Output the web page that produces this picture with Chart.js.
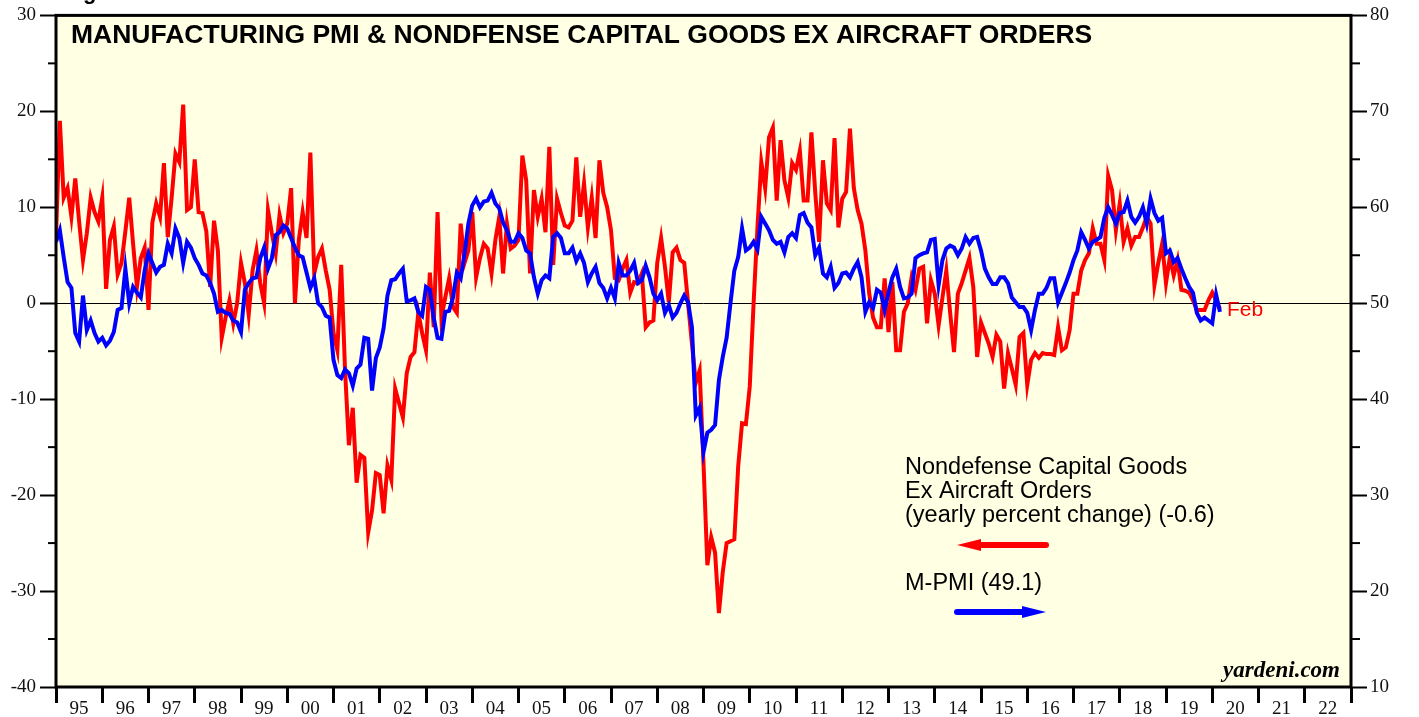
<!DOCTYPE html>
<html>
<head>
<meta charset="utf-8">
<title>Manufacturing PMI & Nondefense Capital Goods ex Aircraft Orders</title>
<script src="https://cdn.jsdelivr.net/npm/chart.js@4.4.1/dist/chart.umd.min.js"></script>
<style>
  html, body { margin: 0; padding: 0; background: #fff; }
  canvas { display: block; }
</style>
</head>
<body>
<canvas id="pmiChart" width="1419" height="717"></canvas>
<script>
// monthly values from Jan 1995, x index = months since Jan 1995
const yearLabels = ['95', '96', '97', '98', '99', '00', '01', '02', '03', '04', '05', '06', '07',
    '08', '09', '10', '11', '12', '13', '14', '15', '16', '17', '18', '19', '20', '21', '22'];

// nondefense capital goods ex aircraft orders, yearly % change (left axis)
const capexOrders = [
    7, 19, 11, 12, 9, 13, 8.5, 4.5, 7.3, 11, 9.5, 8.5,
    11, 1.5, 6.6, 8, 3, 4.2, 7.5, 11, 6.2, 1.7, 4.7, 5.8,
    -0.7, 8.4, 10.4, 9, 14.6, 6.9, 11, 15.6, 14.7, 20.7, 9.7, 10,
    15, 9.5, 9.4, 7.5, 1.7, 8.6, 5.5, -3.6, -1.5, 0.3, -2.1, 0,
    4.2, 2.1, -1.2, 3.4, 5.5, 2.1, 0, 9.7, 7.3, 5.2, 9.2, 7.3,
    8.3, 12, 0, 6.6, 9.5, 6.8, 15.7, 3.1, 4.8, 5.7, 3.4, 1.4,
    -3.1, -4.9, 4, -7, -14.8, -10.9, -18.7, -15.8, -16.1, -23.9, -21.6, -17.7,
    -17.9, -21.9, -16.9, -18.4, -8.9, -10.4, -11.9, -7.3, -5.6, -5.1, -1, -3.1,
    -4.9, 3.2, -2.5, 9.5, -1.5, 0.6, 2.6, -0.4, -1, 8.3, 4.2, 5.5,
    9.5, 2.7, 4.7, 6.2, 5.7, 3.1, 6.6, 9, 3.1, 8.3, 5.7, 6,
    6.6, 15.4, 12.8, 3.1, 11.8, 9, 10.9, 7.4, 16.3, 4, 10.9, 9.4,
    8.1, 7.9, 8.6, 15.2, 9, 12.5, 7.9, 11, 6.8, 14.9, 11.5, 10,
    7.6, 2.6, 2.4, 3.6, 4.5, 1.1, 2.2, 2.1, 3.1, -2.5, -2, -1.8,
    4.2, 6.8, 3.8, 0.1, 5.3, 5.8, 4.5, 4.2, 0, -4.2, -8.3, -7,
    -16.7, -27.3, -24.4, -26, -32.3, -28, -25, -24.8, -24.6, -17, -12.5, -12.6,
    -8.7, 0, 7.9, 14.7, 12, 17.3, 18.3, 10.7, 17, 12.8, 11, 14.6,
    13.9, 15.9, 10.7, 10.7, 17.8, 11.5, 6.4, 14.9, 10.4, 9.7, 17.2, 7.9,
    10.9, 11.6, 18.2, 12, 9.7, 8.3, 5.5, 1, -1.5, -2.5, -2.5, 2.6,
    -3, 2.2, -4.9, -4.9, -0.9, 0, 2.7, 1.4, 3.6, 3.8, -2.1, 2.4,
    1, -2.3, 0.6, 3.4, -1, -5.1, 1, 2.1, 3.4, 4.7, 1.7, -5.6,
    -2, -3.1, -4.2, -5.6, -3.3, -4, -8.9, -5.2, -6.8, -8.5, -3.5, -3.1,
    -8.5, -5.9, -5.2, -5.7, -5.2, -5.3, -5.3, -5.4, -2.5, -4.9, -4.6, -2.8,
    1, 1, 3.4, 4.5, 5.2, 7.8, 6.2, 6.2, 4.5, 13.3, 11.8, 7.6,
    10.4, 6.4, 7.8, 6, 6.9, 6.9, 7.9, 9, 8.3, 1.9, 4.2, 6.2,
    2.1, 4.8, 2.9, 4.5, 1.4, 1.3, 1.1, 0.3, -0.7, -0.7, -0.7, 0.3,
    1.1, 0.3, -0.6
];

// ISM manufacturing PMI (right axis)
const mPmi = [
    56.4, 57.6, 54.8, 52.2, 51.6, 46.9, 46, 50.8, 47.2, 48.2, 46.9, 46,
    46.4, 45.6, 46.1, 47, 49.3, 49.5, 53.6, 50, 51.7, 51.1, 50.6, 53.4,
    55.2, 54.2, 53.2, 53.8, 54, 56.2, 55.2, 57.8, 56.8, 54.2, 56.4, 55.8,
    54.7, 54, 53.1, 52.9, 52.1, 51, 49.1, 49.3, 49, 48.9, 48.2, 48,
    47, 51.4, 52.1, 52.6, 52.7, 54.7, 55.8, 53.6, 54.7, 57.1, 57.4, 58.1,
    57.8, 56.8, 55.8, 55, 54.8, 53.2, 51.6, 52.6, 50, 49.6, 48.7, 48.5,
    44.1, 42.5, 42.2, 43.1, 42.7, 41.4, 43.2, 43.6, 46.4, 46.3, 40.9, 44.3,
    45.4, 47.4, 50.8, 52.4, 52.5, 53.1, 53.6, 50.2, 50.3, 50.5, 49.1, 48.7,
    51.7, 51.4, 48.5, 46.4, 46.3, 49.1, 49.2, 50.6, 53.2, 52.6, 55.2, 58.3,
    60.2, 60.9, 60, 60.6, 60.7, 61.5, 60.4, 59.9, 58.4, 57.6, 56.4, 56.4,
    57.3, 56.8, 55.5, 55.2, 52.7, 51, 52.4, 52.9, 52.6, 56.9, 57.3, 56.8,
    55.2, 55.2, 55.8, 54.4, 55.2, 54.2, 52.2, 53.1, 53.8, 52.1, 51.6, 50.5,
    51.6, 50.5, 54.2, 52.9, 52.9, 53.4, 54.2, 52.1, 52.4, 53.9, 52.7, 51,
    50.3, 51, 49, 49.8, 48.5, 49, 50, 50.8, 50.1, 47.5, 38.3, 39.1,
    34.5, 36.5, 36.8, 37.3, 42, 44.4, 46.4, 50, 53.4, 54.8, 57.8, 55.5,
    55.8, 56.4, 55.6, 59, 58.3, 57.6, 56.6, 56.2, 56.4, 55.3, 56.9, 57.3,
    56.8, 59.2, 59.4, 58.4, 57.9, 55, 55.8, 53.1, 52.7, 53.8, 51.6, 52.1,
    53.1, 53.2, 52.7, 53.6, 54.3, 52.7, 49.1, 50.1, 49.5, 51.4, 51.1, 49.3,
    51.1, 52.7, 53.6, 51.7, 50.5, 50.6, 51, 54.7, 55, 55.2, 55.3, 56.6,
    56.7, 51.9, 54.5, 55.7, 56, 55.8, 55, 55.7, 56.9, 56.2, 56.8, 56.9,
    55.5, 53.6, 52.7, 52, 52, 52.7, 52.7, 52.1, 50.6, 50.1, 49.6, 49.6,
    49, 47.2, 49.3, 51, 51, 51.6, 52.6, 52.6, 50.1, 51.1, 52.1, 53.2,
    54.5, 55.5, 57.4, 56.6, 55.7, 56.4, 56.6, 56.9, 58.9, 60, 59.2, 58.3,
    59.4, 59.5, 60.7, 59, 58.4, 59, 60, 58.3, 60.9, 59.4, 58.6, 58.9,
    55.2, 55.5, 54.3, 54.7, 53.6, 52.6, 51.7, 51.1, 49, 48.2, 48.5, 48.2,
    47.9, 50.9, 49.1
];

const leftMinorTicks = [-35, -25, -15, -5, 5, 15, 25];
const rightMinorTicks = [15, 25, 35, 45, 55, 65, 75];

const serif = "'Liberation Serif', 'DejaVu Serif', serif";
const sans = "'Liberation Sans', Arial, sans-serif";

const toPoints = arr => arr.map((v, i) => ({ x: i, y: v }));

// plot background, frame, minor ticks, legend notes
const decorations = {
    id: 'decorations',
    beforeDraw(chart) {
        const { ctx, chartArea: a } = chart;
        ctx.save();
        ctx.fillStyle = '#ffffe3';
        ctx.fillRect(a.left, a.top, a.right - a.left, a.bottom - a.top);
        ctx.restore();
    },
    afterDraw(chart) {
        const { ctx, chartArea: a } = chart;
        const yl = chart.scales.yLeft, yr = chart.scales.yRight, x = chart.scales.x;
        ctx.save();

        // minor ticks
        ctx.strokeStyle = '#000';
        ctx.lineWidth = 2;
        leftMinorTicks.forEach(v => {
            const py = yl.getPixelForValue(v);
            ctx.beginPath(); ctx.moveTo(a.left - 8, py); ctx.lineTo(a.left, py); ctx.stroke();
        });
        rightMinorTicks.forEach(v => {
            const py = yr.getPixelForValue(v);
            ctx.beginPath(); ctx.moveTo(a.right, py); ctx.lineTo(a.right + 9, py); ctx.stroke();
        });

        // frame
        ctx.lineWidth = 3;
        ctx.strokeRect(a.left, a.top, a.right - a.left, a.bottom - a.top);

        // title
        ctx.fillStyle = '#000';
        ctx.textBaseline = 'alphabetic';
        ctx.font = 'bold 26.5px ' + sans;
        ctx.fillText('MANUFACTURING PMI & NONDFENSE CAPITAL GOODS EX AIRCRAFT ORDERS', 71, 43);
        ctx.font = 'bold 22px ' + sans;
        ctx.fillText('g', 83, -1);

        // end label
        const last = capexOrders.length - 1;
        ctx.fillStyle = '#ff0000';
        ctx.font = '21px ' + sans;
        ctx.textBaseline = 'middle';
        ctx.fillText('Feb', x.getPixelForValue(last) + 7, yl.getPixelForValue(capexOrders[last]) + 1);

        // legend notes
        ctx.fillStyle = '#000';
        ctx.textBaseline = 'alphabetic';
        ctx.font = '23.5px ' + sans;
        ctx.fillText('Nondefense Capital Goods', 905, 474);
        ctx.fillText('Ex Aircraft Orders', 905, 498);
        ctx.fillText('(yearly percent change) (-0.6)', 905, 522);
        ctx.fillText('M-PMI (49.1)', 905, 590);

        drawArrow(ctx, 1046, 957, 545, '#ff0000');
        drawArrow(ctx, 957, 1046, 612, '#0000ff');

        ctx.font = 'bold italic 23px ' + serif;
        ctx.textAlign = 'right';
        ctx.fillText('yardeni.com', 1340, 677);
        ctx.restore();
    }
};

function drawArrow(ctx, fromX, toX, y, color) {
    const dir = toX > fromX ? 1 : -1;
    ctx.save();
    ctx.strokeStyle = color;
    ctx.fillStyle = color;
    ctx.lineWidth = 6;
    ctx.lineCap = 'round';
    ctx.beginPath();
    ctx.moveTo(fromX, y);
    ctx.lineTo(toX - dir * 20, y);
    ctx.stroke();
    ctx.beginPath();
    ctx.moveTo(toX, y);
    ctx.lineTo(toX - dir * 24, y - 6);
    ctx.lineTo(toX - dir * 24, y + 6);
    ctx.closePath();
    ctx.fill();
    ctx.restore();
}

const ctx = document.getElementById('pmiChart').getContext('2d');
new Chart(ctx, {
    type: 'line',
    data: {
        datasets: [{
            label: 'M-PMI',
            data: toPoints(mPmi),
            yAxisID: 'yRight',
            borderColor: '#0000ff',
            borderWidth: 4,
            pointRadius: 0,
            tension: 0
        }, {
            label: 'Nondefense Capital Goods Ex Aircraft Orders',
            data: toPoints(capexOrders),
            yAxisID: 'yLeft',
            borderColor: '#ff0000',
            borderWidth: 4,
            pointRadius: 0,
            tension: 0
        }]
    },
    options: {
        responsive: false,
        animation: false,
        layout: { padding: { top: 15, left: 0, right: 0, bottom: 0 } },
        plugins: {
            legend: { display: false },
            tooltip: { enabled: false }
        },
        scales: {
            x: {
                type: 'linear',
                min: 0,
                max: yearLabels.length * 12,
                afterFit(scale) { scale.height = 30; },
                border: { display: false },
                grid: {
                    drawOnChartArea: false,
                    tickLength: 16,
                    tickWidth: 3,
                    tickColor: '#000'
                },
                ticks: {
                    stepSize: 12,
                    autoSkip: false,
                    maxRotation: 0,
                    labelOffset: 23,
                    padding: -5,
                    color: '#111',
                    font: { family: serif, size: 19 },
                    callback: v => yearLabels[v / 12] || ''
                }
            },
            yLeft: {
                type: 'linear',
                position: 'left',
                min: -40,
                max: 30,
                afterFit(scale) { scale.width = 56; },
                border: { display: false },
                grid: {
                    drawOnChartArea: true,
                    color: c => c.tick && c.tick.value === 0 ? '#000' : 'rgba(0,0,0,0)',
                    lineWidth: 1,
                    tickLength: 16,
                    tickWidth: 2,
                    tickColor: '#000'
                },
                ticks: {
                    stepSize: 10,
                    padding: 4,
                    color: '#111',
                    font: { family: serif, size: 19 }
                }
            },
            yRight: {
                type: 'linear',
                position: 'right',
                min: 10,
                max: 80,
                afterFit(scale) { scale.width = 68; },
                border: { display: false },
                grid: {
                    drawOnChartArea: false,
                    tickLength: 16,
                    tickWidth: 2,
                    tickColor: '#000'
                },
                ticks: {
                    stepSize: 10,
                    padding: 3,
                    color: '#111',
                    font: { family: serif, size: 19 }
                }
            }
        }
    },
    plugins: [decorations]
});
</script>
</body>
</html>
